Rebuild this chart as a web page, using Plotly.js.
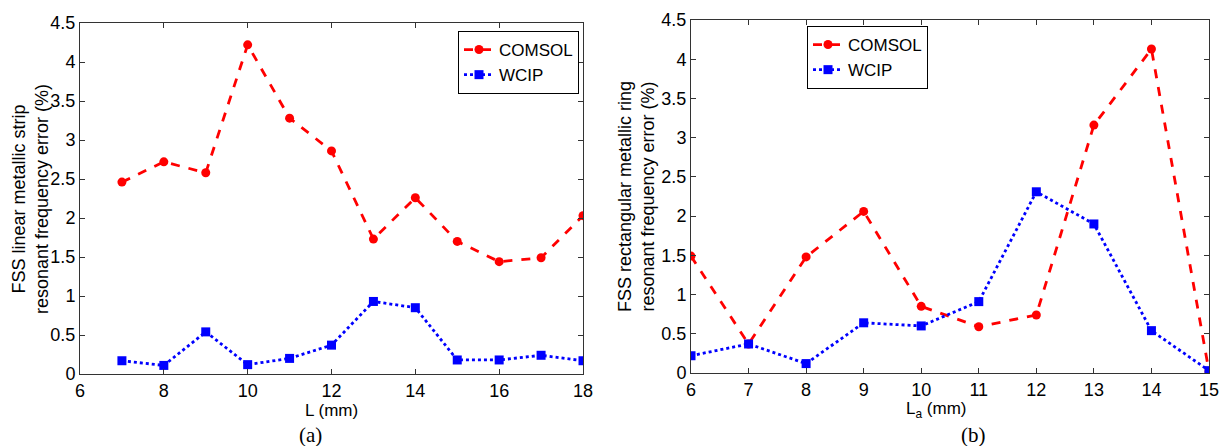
<!DOCTYPE html>
<html>
<head>
<meta charset="utf-8">
<script src="https://cdn.plot.ly/plotly-3.0.1.min.js"></script>
<style>html,body{margin:0;padding:0;background:#fff;}#chart{width:1222px;height:446px;}</style>
</head>
<body>
<div id="chart"></div>
<script>
// (a) linear metallic strip
const L_a_x = [7, 8, 9, 10, 11, 12, 13, 14, 15, 16, 17, 18];
const comsolA = [2.46, 2.72, 2.58, 4.22, 3.28, 2.86, 1.73, 2.26, 1.70, 1.44, 1.49, 2.03];
const wcipA   = [0.17, 0.11, 0.54, 0.12, 0.20, 0.37, 0.93, 0.85, 0.18, 0.18, 0.24, 0.17];
// (b) rectangular metallic ring
const La_b_x = [6, 7, 8, 9, 10, 11, 12, 13, 14, 15];
const comsolB = [1.49, 0.37, 1.48, 2.06, 0.85, 0.59, 0.74, 3.16, 4.13, 0.02];
const wcipB   = [0.22, 0.37, 0.12, 0.64, 0.60, 0.91, 2.31, 1.90, 0.54, 0.03];

const seriesNames = ['COMSOL', 'WCIP'];
const yTitles = ['FSS linear metallic strip<br>resonant frequency error (%)',
                 'FSS rectangular metallic ring<br>resonant frequency error (%)'];
const xTitles = ['L (mm)', 'L<sub>a</sub> (mm)'];
const captions = ['(a)', '(b)'];

const W = 1222, H = 446;
const red = '#ff0000', blue = '#0000ff';
const font = 'Liberation Sans, Arial, sans-serif';
const serif = 'Liberation Serif, Times New Roman, serif';

function comsol(x, y, xa, ya, leg) {
  return {x: x, y: y, xaxis: xa, yaxis: ya, name: seriesNames[0], legend: leg,
    mode: 'lines+markers', line: {color: red, width: 2.8, dash: 'dash'},
    marker: {symbol: 'circle', size: 9, color: red}};
}
function wcip(x, y, xa, ya, leg) {
  return {x: x, y: y, xaxis: xa, yaxis: ya, name: seriesNames[1], legend: leg,
    mode: 'lines+markers', line: {color: blue, width: 2.8, dash: 'dot'},
    marker: {symbol: 'square', size: 9, color: blue}};
}

const data = [
  comsol(L_a_x, comsolA, 'x', 'y', 'legend'),
  wcip(L_a_x, wcipA, 'x', 'y', 'legend'),
  comsol(La_b_x, comsolB, 'x2', 'y2', 'legend2'),
  wcip(La_b_x, wcipB, 'x2', 'y2', 'legend2')
];

function axBase() {
  return {
    showgrid: false, zeroline: false, showline: true, linecolor: '#333', linewidth: 1,
    mirror: 'ticks', ticks: 'inside', ticklen: 5, tickcolor: '#333',
    tickfont: {family: font, size: 18, color: '#000'}
  };
}
function legBase() {
  return {
    font: {family: font, size: 17, color: '#000'},
    bordercolor: '#000', borderwidth: 1, bgcolor: '#fff',
    xanchor: 'left', yanchor: 'top', itemwidth: 30, tracegroupgap: 0
  };
}
const tFont = {family: font, size: 18, color: '#000'};
const xFont = {family: font, size: 17, color: '#000'};

const layout = {
  width: W, height: H,
  margin: {l: 0, r: 0, t: 0, b: 0},
  paper_bgcolor: '#fff', plot_bgcolor: '#fff',
  showlegend: true,
  xaxis: Object.assign(axBase(), {domain: [80 / W, 583 / W], range: [6, 18], dtick: 2, tick0: 6, anchor: 'y'}),
  yaxis: Object.assign(axBase(), {domain: [1 - 374 / H, 1 - 23 / H], range: [0, 4.5], dtick: 0.5, anchor: 'x'}),
  xaxis2: Object.assign(axBase(), {domain: [691 / W, 1209 / W], range: [6, 15], dtick: 1, tick0: 6, anchor: 'y2'}),
  yaxis2: Object.assign(axBase(), {domain: [1 - 373 / H, 1 - 20 / H], range: [0, 4.5], dtick: 0.5, anchor: 'x2'}),
  legend: Object.assign(legBase(), {x: 458 / W, y: 1 - 31 / H}),
  legend2: Object.assign(legBase(), {x: 807 / W, y: 1 - 26 / H}),
  annotations: [
    {text: yTitles[0], xref: 'paper', yref: 'paper', x: 30 / W, y: 1 - 199 / H, textangle: -90,
     xanchor: 'center', yanchor: 'middle', showarrow: false, font: tFont},
    {text: yTitles[1], xref: 'paper', yref: 'paper', x: 636 / W, y: 1 - 197 / H, textangle: -90,
     xanchor: 'center', yanchor: 'middle', showarrow: false, font: tFont},
    {text: xTitles[0], xref: 'paper', yref: 'paper', x: 331 / W, y: 1 - 410 / H,
     xanchor: 'center', yanchor: 'middle', showarrow: false, font: xFont},
    {text: xTitles[1], xref: 'paper', yref: 'paper', x: 936 / W, y: 1 - 410 / H,
     xanchor: 'center', yanchor: 'middle', showarrow: false, font: xFont},
    {text: captions[0], xref: 'paper', yref: 'paper', x: 310 / W, y: 1 - 435 / H,
     xanchor: 'center', yanchor: 'middle', showarrow: false,
     font: {family: serif, size: 21, color: '#000'}},
    {text: captions[1], xref: 'paper', yref: 'paper', x: 974 / W, y: 1 - 435 / H,
     xanchor: 'center', yanchor: 'middle', showarrow: false,
     font: {family: serif, size: 21, color: '#000'}}
  ]
};

Plotly.newPlot('chart', data, layout, {displayModeBar: false, staticPlot: true});
</script>
</body>
</html>
